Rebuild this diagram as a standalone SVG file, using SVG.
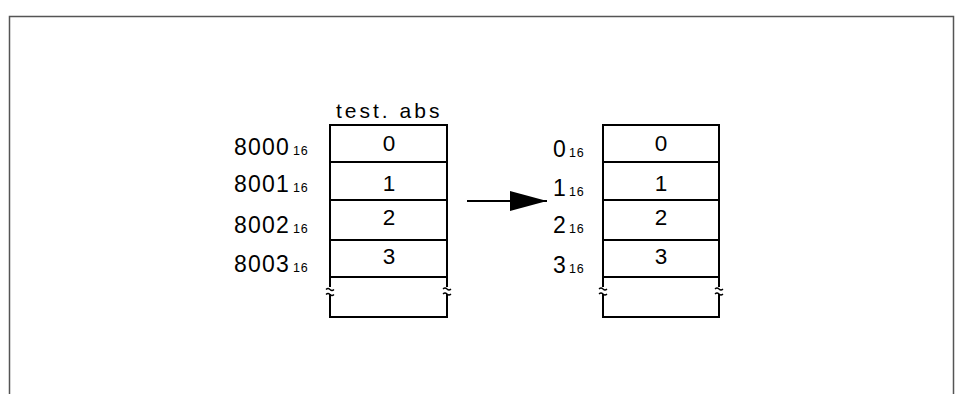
<svg xmlns="http://www.w3.org/2000/svg" width="960" height="394" viewBox="0 0 960 394">
  <style>
    .frame { fill: none; stroke: #555; stroke-width: 1.5; }
    .box { fill: none; stroke: #000; stroke-width: 2; }
    .brk { fill: none; stroke: #000; stroke-width: 1.3; }
    .lbl { font-family: "Liberation Sans", Arial, sans-serif; font-size: 23px; letter-spacing: 1.2px; fill: #000; }
    .sub { font-family: "Liberation Sans", Arial, sans-serif; font-size: 12.5px; letter-spacing: 0.8px; fill: #000; }
    .cell { font-family: "Liberation Sans", Arial, sans-serif; font-size: 22.5px; fill: #000; text-anchor: middle; }
    .title { font-family: "Liberation Sans", Arial, sans-serif; font-size: 21px; letter-spacing: 3px; fill: #000; }
  </style>
  <defs>
    <marker id="arrowhead" markerUnits="userSpaceOnUse" markerWidth="38" markerHeight="20" refX="37" refY="10" orient="auto">
      <path d="M0,0 L37,10 L0,20 Z" fill="#000"/>
    </marker>
  </defs>
  <rect width="960" height="394" fill="#fff"/>

  <!-- outer frame, open at the bottom -->
  <path class="frame" d="M9.5,394 V16.5 H953.5 V394"/>

  <!-- source memory: test.abs -->
  <g id="source">
    <text class="title" x="336" y="118">test. abs</text>
    <path class="box" d="M330,124 V287 M447,124 V287 M330,294 V317 H447 V294"/>
    <path class="box" d="M330,125 H447 M330,162 H447 M330,200 H447 M330,240 H447 M330,277 H447"/>
    <path class="brk" d="M326,289.5 q2,-2 4,0 t4,0 M326,294.5 q2,-2 4,0 t4,0"/>
    <path class="brk" d="M443,289 q2,-2 4,0 t4,0 M443,294 q2,-2 4,0 t4,0"/>
    <text class="cell" x="389" y="151">0</text>
    <text class="cell" x="389" y="191">1</text>
    <text class="cell" x="389" y="225">2</text>
    <text class="cell" x="389" y="264">3</text>
    <text class="lbl" x="234" y="155">8000<tspan class="sub" dx="3">16</tspan></text>
    <text class="lbl" x="234" y="192">8001<tspan class="sub" dx="3">16</tspan></text>
    <text class="lbl" x="234" y="233">8002<tspan class="sub" dx="3">16</tspan></text>
    <text class="lbl" x="234" y="272">8003<tspan class="sub" dx="3">16</tspan></text>
  </g>

  <!-- relocated memory -->
  <g id="target">
    <path class="box" d="M603,124 V287 M719,124 V287 M603,294 V317 H719 V294"/>
    <path class="box" d="M603,125 H719 M603,162 H719 M603,200 H719 M603,240 H719 M603,277 H719"/>
    <path class="brk" d="M599,289 q2,-2 4,0 t4,0 M599,294 q2,-2 4,0 t4,0"/>
    <path class="brk" d="M715,289 q2,-2 4,0 t4,0 M715,294 q2,-2 4,0 t4,0"/>
    <text class="cell" x="661" y="151">0</text>
    <text class="cell" x="661" y="191">1</text>
    <text class="cell" x="661" y="225">2</text>
    <text class="cell" x="661" y="264">3</text>
    <text class="lbl" x="553" y="157">0<tspan class="sub" dx="2">16</tspan></text>
    <text class="lbl" x="553" y="196">1<tspan class="sub" dx="2">16</tspan></text>
    <text class="lbl" x="553" y="233">2<tspan class="sub" dx="2">16</tspan></text>
    <text class="lbl" x="553" y="273">3<tspan class="sub" dx="2">16</tspan></text>
  </g>

  <!-- connectors -->
  <g id="connectors">
    <line x1="467" y1="201" x2="547" y2="201" stroke="#000" stroke-width="2" marker-end="url(#arrowhead)"/>
  </g>
</svg>
